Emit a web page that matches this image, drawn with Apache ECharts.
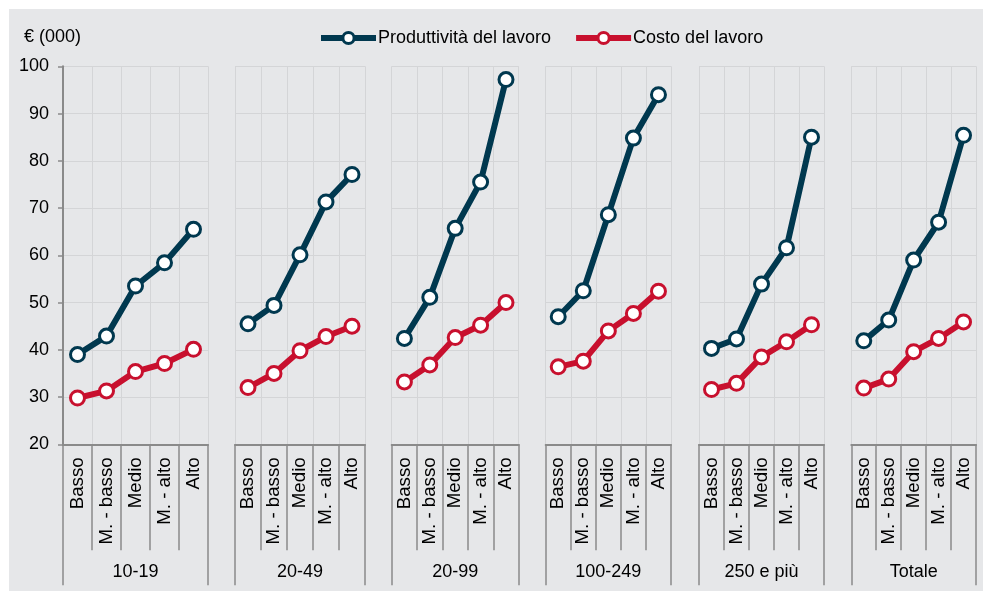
<!DOCTYPE html>
<html>
<head>
<meta charset="utf-8">
<script src="https://cdn.jsdelivr.net/npm/echarts@6/dist/echarts.min.js"></script>
<style>
  html, body { margin: 0; padding: 0; background: #ffffff; }
  #wrap { position: relative; width: 983px; height: 593px; background: #ffffff; }
  #panel { position: absolute; left: 9px; top: 9px; width: 974px; height: 582px; background: #e6e7e9; }
  #chart { position: absolute; left: 0; top: 0; width: 983px; height: 593px; }
</style>
</head>
<body>
<div id="wrap"><div id="panel"></div><div id="chart"></div></div>
<script>
const categories = ['Basso', 'M. - basso', 'Medio', 'M. - alto', 'Alto'];
const groups = ['10-19', '20-49', '20-99', '100-249', '250 e più', 'Totale'];
const yTicks = [20, 30, 40, 50, 60, 70, 80, 90, 100];
const seriesNames = ['Produttività del lavoro', 'Costo del lavoro'];

const prod_10_19 = [39.0, 42.9, 53.5, 58.4, 65.5];
const prod_20_49 = [45.5, 49.4, 60.1, 71.3, 77.1];
const prod_20_99 = [42.4, 51.1, 65.7, 75.5, 97.2];
const prod_100_249 = [47.0, 52.5, 68.6, 84.8, 94.0];
const prod_250 = [40.3, 42.3, 53.9, 61.6, 85.0];
const prod_totale = [41.9, 46.3, 59.0, 67.0, 85.4];

const costo_10_19 = [29.8, 31.3, 35.4, 37.1, 40.1];
const costo_20_49 = [32.0, 35.0, 39.8, 42.8, 45.0];
const costo_20_99 = [33.2, 36.8, 42.6, 45.2, 50.0];
const costo_100_249 = [36.4, 37.6, 44.0, 47.7, 52.4];
const costo_250 = [31.6, 32.9, 38.5, 41.7, 45.3];
const costo_totale = [31.9, 33.8, 39.6, 42.4, 45.9];

const prodData = [prod_10_19, prod_20_49, prod_20_99, prod_100_249, prod_250, prod_totale];
const costoData = [costo_10_19, costo_20_49, costo_20_99, costo_100_249, costo_250, costo_totale];

const colors = ['#00384f', '#c8102e'];
const gridLeft = [63, 235, 391.7, 545.7, 699, 851.3];
const gridWidth = [145, 130, 127, 125.3, 125, 124.7];
const FONT = 'Liberation Sans, Arial, sans-serif';
const axisGray = '#8a8a8a';
const splitGray = '#d4d5d7';

const grids = [], xAxes = [], yAxes = [], series = [];
groups.forEach((g, i) => {
  grids.push({ left: gridLeft[i], width: gridWidth[i], top: 66.3, height: 378 });
  xAxes.push({
    type: 'category', gridIndex: i, data: categories, position: 'bottom',
    boundaryGap: true,
    axisLine: { show: true, lineStyle: { color: axisGray, width: 2 } },
    axisTick: { show: true, length: 106, interval: 0, lineStyle: { color: axisGray, width: 1.5 } },
    axisLabel: { rotate: 90, interval: 0, margin: 13, fontSize: 18.7, color: '#000', fontFamily: FONT },
    splitLine: { show: true, interval: 0, lineStyle: { color: splitGray, width: 1 } }
  });
  xAxes.push({
    type: 'category', gridIndex: i, data: [g], position: 'bottom',
    boundaryGap: true,
    axisLine: { show: false },
    axisTick: { show: true, length: 141, interval: 0, lineStyle: { color: axisGray, width: 1.5 } },
    axisLabel: { margin: 119, fontSize: 18, color: '#000', fontFamily: FONT },
    splitLine: { show: false }
  });
  yAxes.push({
    type: 'value', gridIndex: i, min: yTicks[0], max: yTicks[yTicks.length - 1], interval: 10,
    axisLine: { show: i === 0, lineStyle: { color: axisGray, width: 2 } },
    axisTick: { show: i === 0, length: 5, lineStyle: { color: axisGray, width: 1.5 } },
    axisLabel: { show: i === 0, margin: 14, fontSize: 18, color: '#000', fontFamily: FONT },
    splitLine: { show: true, lineStyle: { color: splitGray, width: 1 } }
  });
  [prodData[i], costoData[i]].forEach((d, k) => {
    series.push({
      name: seriesNames[k], type: 'line', xAxisIndex: 2 * i, yAxisIndex: i,
      data: d, symbol: 'circle', symbolSize: 14, showSymbol: true,
      lineStyle: { color: colors[k], width: 6 },
      itemStyle: { color: '#ffffff', borderColor: colors[k], borderWidth: 3 },
      z: 3 + k, animation: false
    });
  });
});

const chart = echarts.init(document.getElementById('chart'), null, { renderer: 'canvas' });
chart.setOption({
  backgroundColor: 'transparent',
  animation: false,
  textStyle: { fontFamily: FONT },
  title: { text: '€ (000)', left: 19, top: 23, textStyle: { fontSize: 18, fontWeight: 'normal', color: '#000', fontFamily: FONT } },
  legend: {
    data: seriesNames, top: 24, left: 313, itemWidth: 55, itemHeight: 14, itemGap: 22,
    lineStyle: { width: 6 },
    itemStyle: { borderWidth: 3 },
    textStyle: { fontSize: 18, color: '#000', fontFamily: FONT, padding: [0, 0, 0, -3] }
  },
  grid: grids,
  xAxis: xAxes,
  yAxis: yAxes,
  series: series
});
</script>
</body>
</html>
